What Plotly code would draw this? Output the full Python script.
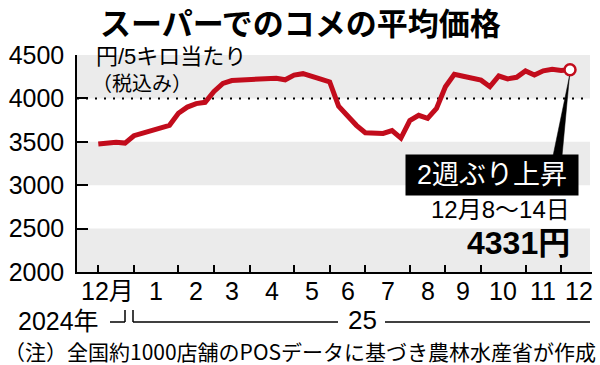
import plotly.graph_objects as go

# ---------------- data ----------------
# weekly average price of rice at supermarkets (yen per 5kg, tax incl.)
# week index 0 = first week of Dec 2024 ... last = Dec 8-14, 2025
prices = [3475, 3490, 3495, 3485,                 # Dec 2024
          3570, 3600, 3630, 3660, 3690,           # Jan
          3829, 3900, 3940, 3955,                 # Feb
          4080, 4172, 4206, 4214,                 # Mar
          4217, 4220, 4225, 4233, 4214,           # Apr
          4268, 4285, 4260, 4223,                 # May
          4190, 3910, 3800, 3690,                 # Jun
          3605, 3600, 3597, 3630, 3542,           # Jul
          3745, 3805, 3770, 3885,                 # Aug
          4135, 4278, 4255, 4230,                 # Sep
          4210, 4135, 4258, 4225, 4243,           # Oct
          4316, 4270, 4318, 4335,                 # Nov
          4321, 4331]                             # Dec 2025
month_labels = ["12月", "1", "2", "3", "4", "5", "6", "7", "8", "9", "10", "11", "12"]
month_start_idx = [0, 4, 9, 13, 17, 22, 26, 30, 35, 39, 43, 48, 52]
next_month_start = 56
y_ticks = [2000, 2500, 3000, 3500, 4000, 4500]
bands = [(2000, 2500), (3000, 3500), (4000, 4500)]
title_text = "スーパーでのコメの平均価格"
unit_line1 = "円/5キロ当たり"
unit_line2 = "（税込み）"
callout_text = "2週ぶり上昇"
callout_date = "12月8〜14日"
callout_value = "4331円"
year_2024 = "2024年"
year_25 = "25"
note_text = "（注）全国約1000店舗のPOSデータに基づき農林水産省が作成"

# ---------------- layout geometry ----------------
L, R, T, B = 77, 592, 55, 272
W, H = R - L, B - T
X0_PX, DX_PX = 98.3, 8.9

def px_x(p):
    return (p - L) / W

def px_y(p):
    return (B - p) / H

RED = "#c20c1c"
NUM_FONT = "Liberation Sans, Noto Sans CJK JP"
JP_FONT = "Noto Sans CJK JP"

fig = go.Figure()

xs = list(range(len(prices)))
fig.add_trace(go.Scatter(x=xs, y=prices, mode="lines",
                         line=dict(color=RED, width=5), hoverinfo="skip",
                         showlegend=False))
fig.add_trace(go.Scatter(x=[xs[-1]], y=[prices[-1]], mode="markers",
                         marker=dict(symbol="circle", size=11, color="white",
                                     line=dict(color=RED, width=2.5)),
                         cliponaxis=False, showlegend=False, hoverinfo="skip"))

shapes = []
for y0, y1 in bands:
    shapes.append(dict(type="rect", xref="paper", yref="y", x0=0, x1=px_x(590),
                       y0=y0, y1=y1, fillcolor="#ebebeb", line=dict(width=0),
                       layer="below"))
shapes.append(dict(type="line", xref="paper", yref="y", x0=0, x1=px_x(590),
                   y0=4000, y1=4000, line=dict(color="black", width=2, dash="2px,7px"),
                   layer="below"))
# callout wedge
shapes.append(dict(type="path", xref="paper", yref="paper",
                   path=f"M {px_x(569.5)},{px_y(76)} L {px_x(553)},{px_y(156)} "
                        f"L {px_x(562)},{px_y(156)} Z",
                   fillcolor="black", line=dict(color="black", width=0.5)))
# year brackets
lw = dict(color="black", width=1.5)
shapes += [
    dict(type="line", xref="paper", yref="paper", x0=px_x(110), x1=px_x(125),
         y0=px_y(322), y1=px_y(322), line=lw),
    dict(type="line", xref="paper", yref="paper", x0=px_x(125), x1=px_x(125),
         y0=px_y(322), y1=px_y(310), line=lw),
    dict(type="line", xref="paper", yref="paper", x0=px_x(133), x1=px_x(133),
         y0=px_y(322), y1=px_y(310), line=lw),
    dict(type="line", xref="paper", yref="paper", x0=px_x(133), x1=px_x(338),
         y0=px_y(322), y1=px_y(322), line=lw),
    dict(type="line", xref="paper", yref="paper", x0=px_x(385), x1=px_x(590),
         y0=px_y(322), y1=px_y(322), line=lw),
]

ann = []
ann.append(dict(text=f"<b>{title_text}</b>", xref="paper", yref="paper",
                x=px_x(300), y=px_y(21), xanchor="center", yanchor="middle",
                showarrow=False, font=dict(family=JP_FONT, size=31, color="black")))
ann.append(dict(text=unit_line1, xref="paper", yref="paper", x=px_x(94), y=px_y(57),
                xanchor="left", yanchor="middle", showarrow=False,
                font=dict(family=NUM_FONT, size=22, color="black")))
ann.append(dict(text=unit_line2, xref="paper", yref="paper", x=px_x(90), y=px_y(82),
                xanchor="left", yanchor="middle", showarrow=False,
                font=dict(family=JP_FONT, size=20, color="black")))
# month labels
mids = []
for i, s in enumerate(month_start_idx):
    e = month_start_idx[i + 1] if i + 1 < len(month_start_idx) else next_month_start
    mids.append((s + e) / 2)
for i, (lab, m) in enumerate(zip(month_labels, mids)):
    ann.append(dict(text=lab, xref="x", yref="paper", x=m, y=px_y(291),
                    xanchor="center", yanchor="middle", showarrow=False,
                    xshift=-9 if i == 0 else 0,
                    font=dict(family=NUM_FONT, size=25, color="black")))
ann.append(dict(text=year_2024, xref="paper", yref="paper", x=px_x(58), y=px_y(321),
                xanchor="center", yanchor="middle", showarrow=False,
                font=dict(family=NUM_FONT, size=25, color="black")))
ann.append(dict(text=year_25, xref="paper", yref="paper", x=px_x(362), y=px_y(320),
                xanchor="center", yanchor="middle", showarrow=False,
                font=dict(family=NUM_FONT, size=26, color="black")))
ann.append(dict(text=note_text, xref="paper", yref="paper", x=px_x(300), y=px_y(351),
                xanchor="center", yanchor="middle", showarrow=False,
                font=dict(family=JP_FONT, size=21, color="black")))
# callout
ann.append(dict(text=callout_text, xref="paper", yref="paper", x=px_x(492), y=px_y(175),
                xanchor="center", yanchor="middle", showarrow=False,
                bgcolor="black", borderpad=4, width=164, height=32,
                font=dict(family=NUM_FONT, size=27, color="white")))
ann.append(dict(text=callout_date, xref="paper", yref="paper", x=px_x(572), y=px_y(209),
                xanchor="right", yanchor="middle", showarrow=False,
                font=dict(family=NUM_FONT, size=24, color="black")))
ann.append(dict(text=f"<b>{callout_value}</b>", xref="paper", yref="paper",
                x=px_x(572), y=px_y(243),
                xanchor="right", yanchor="middle", showarrow=False,
                font=dict(family=NUM_FONT, size=32, color="black")))

fig.update_layout(
    width=600, height=365,
    margin=dict(l=L, r=600 - R, t=T, b=365 - B, pad=0),
    paper_bgcolor="white", plot_bgcolor="white",
    showlegend=False,
    shapes=shapes, annotations=ann,
    xaxis=dict(range=[(L - X0_PX) / DX_PX, (R - X0_PX) / DX_PX],
               tickvals=month_start_idx, ticktext=[""] * len(month_start_idx),
               ticks="inside", ticklen=7, tickwidth=1.5, tickcolor="black",
               showline=True, linecolor="black", linewidth=1.5,
               showgrid=False, zeroline=False, fixedrange=True),
    yaxis=dict(range=[2000, 4500], tickvals=y_ticks,
               ticktext=[str(v) for v in y_ticks],
               ticks="inside", ticklen=11, tickwidth=1.5, tickcolor="black",
               showline=True, linecolor="black", linewidth=1.5,
               showgrid=False, zeroline=False, ticklabelstandoff=6,
               tickfont=dict(family=NUM_FONT, size=25, color="black")),
)

fig.write_html("out.html")
